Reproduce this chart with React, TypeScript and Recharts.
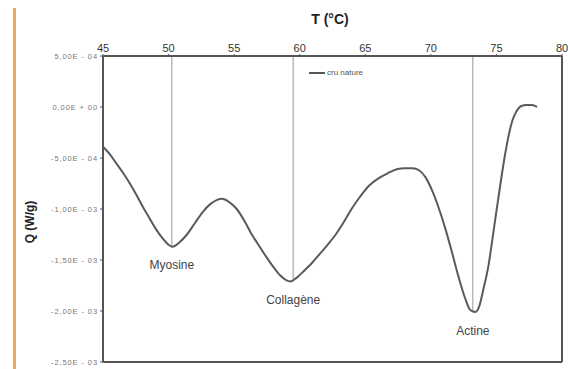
import React from "react";
import {
  LineChart,
  Line,
  XAxis,
  YAxis,
  ReferenceLine,
  ReferenceDot,
} from "recharts";

// temperature (°C) and heat flow (in 1e-3 W/g)
const temps = [
  45, 45.5, 46, 46.5, 47, 47.5, 48, 48.5, 49, 49.5, 50, 50.3, 50.8, 51.4, 52,
  52.6, 53.2, 53.7, 54.1, 54.6, 55.2, 55.8, 56.3, 56.8, 57.4, 58, 58.5, 59,
  59.3, 59.8, 60.3, 61, 61.6, 62.2, 62.8, 63.4, 64, 64.6, 65.3, 66, 66.7, 67.4,
  68, 68.6, 69.1, 69.6, 70.1, 70.6, 71.1, 71.6, 72.1, 72.6, 73, 73.4, 73.7, 74,
  74.4, 74.7, 75, 75.3, 75.6, 75.9, 76.2, 76.5, 76.9, 77.3, 77.7, 78.1,
];
const heatFlow = [
  -0.39, -0.46, -0.55, -0.64, -0.74, -0.85, -0.97, -1.08, -1.19, -1.28, -1.35,
  -1.37, -1.33, -1.25, -1.14, -1.03, -0.95, -0.91, -0.9, -0.93, -1.0, -1.12,
  -1.24, -1.34, -1.46, -1.57, -1.65, -1.7, -1.71, -1.67, -1.61, -1.52, -1.43,
  -1.34, -1.24, -1.12, -0.99, -0.88, -0.77, -0.7, -0.65, -0.61, -0.6, -0.6,
  -0.62, -0.69, -0.82, -0.99, -1.19, -1.42, -1.66, -1.87, -1.99, -2.01, -1.95,
  -1.79, -1.55, -1.29, -1.02, -0.76, -0.51, -0.3, -0.14, -0.05, 0.01, 0.02,
  0.02, 0.0,
];

const peakNames = ["Myosine", "Collagène", "Actine"];
const peakTemps = [50.25, 59.5, 73.2];
const peakValues = [-1.37, -1.71, -2.01];

const xTicks = [45, 50, 55, 60, 65, 70, 75, 80];
const yTicks = [5e-4, 0, -5e-4, -1e-3, -1.5e-3, -2e-3, -2.5e-3];

const data = temps.map((t, i) => ({ t, q: heatFlow[i] * 1e-3 }));

const fmtSci = (v: number) => {
  if (v === 0) return "0,00E + 00";
  const [m, e] = v.toExponential(2).split("e");
  const exp = parseInt(e, 10);
  const sign = exp < 0 ? "-" : "+";
  const pad = String(Math.abs(exp)).padStart(2, "0");
  return `${m.replace(".", ",")}E ${sign} ${pad}`;
};

const FONT = "'Liberation Sans', Arial, sans-serif";

export default function App() {
  return (
    <div style={{ position: "absolute", left: 0, top: 0, width: 568, height: 369, background: "#fff", fontFamily: FONT }}>
      <div style={{ position: "absolute", left: 13, top: 8, width: 3, height: 361, background: "#f2a761" }} />
      <div style={{ position: "absolute", left: 0, width: 660, top: 11, textAlign: "center", fontWeight: "bold", fontSize: 14, color: "#222" }}>
        T (°C)
      </div>
      <div
        style={{
          position: "absolute",
          left: 30,
          top: 222,
          transform: "translate(-50%, -50%) rotate(-90deg)",
          fontWeight: "bold",
          fontSize: 12,
          color: "#222",
          whiteSpace: "nowrap",
        }}
      >
        Q (W/g)
      </div>
      {/* legend sits inside the plot area */}
      <div
        style={{
          position: "absolute",
          left: 309,
          top: 68,
          display: "flex",
          alignItems: "center",
          fontSize: 8,
          color: "#555",
          zIndex: 2,
        }}
      >
        <span style={{ display: "inline-block", width: 16, height: 2, background: "#555", marginRight: 2 }} />
        cru nature
      </div>
      <LineChart width={568} height={369} data={data} margin={{ top: 26, right: 6, bottom: 7, left: 8 }}>
        <XAxis
          dataKey="t"
          type="number"
          orientation="top"
          domain={[45, 80]}
          ticks={xTicks}
          height={30}
          stroke="#555"
          strokeWidth={2}
          tickSize={2}
          tick={{ fontSize: 11, fill: "#333", fontFamily: FONT }}
          tickLine={{ stroke: "#555", strokeWidth: 1 }}
        />
        <YAxis
          type="number"
          domain={[-2.5e-3, 5e-4]}
          ticks={yTicks}
          width={95}
          stroke="#555"
          strokeWidth={2}
          tickSize={3}
          tickFormatter={fmtSci}
          tick={{ fontSize: 7.5, fill: "#777", fontFamily: FONT, letterSpacing: 0.9 }}
          tickLine={{ stroke: "#555", strokeWidth: 1 }}
        />
        <ReferenceLine x={80} stroke="#555" strokeWidth={2} />
        <ReferenceLine y={-2.5e-3} stroke="#555" strokeWidth={2} />
        {peakTemps.map((pt, i) => (
          <ReferenceLine
            key={`pl-${i}`}
            segment={[
              { x: pt, y: 5e-4 },
              { x: pt, y: peakValues[i] * 1e-3 },
            ]}
            stroke="#999"
            strokeWidth={1}
          />
        ))}
        <Line
          type="monotone"
          dataKey="q"
          name="cru nature"
          stroke="#5a5a5a"
          strokeWidth={2}
          dot={false}
          isAnimationActive={false}
        />
        {peakTemps.map((pt, i) => (
          <ReferenceDot
            key={`pd-${i}`}
            x={pt}
            y={peakValues[i] * 1e-3}
            r={0}
            stroke="none"
            label={{ value: peakNames[i], position: "bottom", offset: 14, fontSize: 12, fill: "#444", fontFamily: FONT }}
          />
        ))}
      </LineChart>
    </div>
  );
}
